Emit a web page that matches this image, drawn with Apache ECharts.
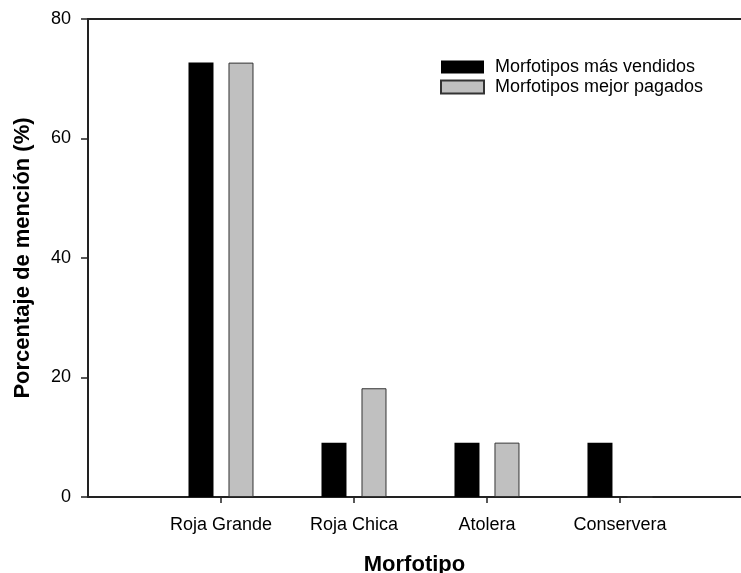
<!DOCTYPE html>
<html>
<head>
<meta charset="utf-8">
<title>Morfotipos</title>
<script src="https://cdn.jsdelivr.net/npm/echarts@6/dist/echarts.min.js"></script>
<style>
  html, body { margin: 0; padding: 0; background: #fff; }
  #chart { width: 741px; height: 573px; }
</style>
</head>
<body>
<div id="chart"></div>
<script>
// Morphotype categories and the share of mentions (%) for each survey question
const categories = ['Roja Grande', 'Roja Chica', 'Atolera', 'Conservera'];
const masVendidos = [72.7, 9.1, 9.1, 9.1];
const mejorPagados = [72.7, 18.2, 9.1, 0];
const seriesNames = ['Morfotipos más vendidos', 'Morfotipos mejor pagados'];
const yTicks = [0, 20, 40, 60, 80];

// categories sit at positions 1..n on a numeric x scale
const positions = categories.map((_, i) => i + 1);
const toPoints = vals => vals.map((v, i) => [positions[i], v]);

const FONT = 'Liberation Sans, Arial, sans-serif';
const AXIS = '#222';

const chart = echarts.init(document.getElementById('chart'), null, { renderer: 'canvas' });

chart.setOption({
  animation: false,
  backgroundColor: '#fff',
  textStyle: { fontFamily: FONT, color: '#000' },
  grid: { left: 88, right: 0, top: 19, bottom: 76, containLabel: false, outerBoundsMode: 'none' },
  legend: {
    orient: 'vertical',
    left: 440,
    top: 58,
    padding: 0,
    itemGap: 2,
    itemWidth: 43,
    itemHeight: 13,
    icon: 'rect',
    data: seriesNames,
    textStyle: { fontFamily: FONT, fontSize: 18, color: '#000', padding: [0, 0, 0, 6] }
  },
  xAxis: [
    {
      type: 'value',
      min: 0,
      max: 4.91,
      interval: 1,
      splitLine: { show: false },
      axisLine: { show: true, onZero: false, lineStyle: { color: AXIS, width: 2 } },
      axisTick: { show: true, length: 6, customValues: positions, lineStyle: { color: AXIS, width: 1.5 } },
      axisLabel: {
        customValues: positions,
        margin: 19,
        fontFamily: FONT,
        fontSize: 18,
        color: '#000',
        formatter: v => categories[Math.round(v) - 1] || ''
      },
      name: 'Morfotipo',
      nameLocation: 'middle',
      nameGap: 57,
      nameTextStyle: { fontFamily: FONT, fontSize: 22, fontWeight: 'bold', color: '#000' }
    },
    {
      // top frame line
      type: 'value',
      position: 'top',
      min: 0,
      max: 4.91,
      axisLine: { show: true, onZero: false, lineStyle: { color: AXIS, width: 2 } },
      axisTick: { show: false },
      axisLabel: { show: false },
      splitLine: { show: false }
    }
  ],
  yAxis: {
    type: 'value',
    min: yTicks[0],
    max: yTicks[yTicks.length - 1],
    interval: yTicks[1] - yTicks[0],
    splitLine: { show: false },
    axisLine: { show: true, onZero: false, lineStyle: { color: AXIS, width: 2 } },
    axisTick: { show: true, length: 7, lineStyle: { color: AXIS, width: 1.5 } },
    axisLabel: { margin: 17, fontFamily: FONT, fontSize: 18, color: '#000' },
    name: 'Porcentaje de mención (%)',
    nameLocation: 'middle',
    nameGap: 54,
    nameTextStyle: { fontFamily: FONT, fontSize: 22, fontWeight: 'bold', color: '#000' }
  },
  series: [
    {
      name: seriesNames[0],
      type: 'bar',
      xAxisIndex: 0,
      barWidth: 25,
      barGap: '60%',
      itemStyle: { color: '#000' },
      data: toPoints(masVendidos)
    },
    {
      name: seriesNames[1],
      type: 'bar',
      xAxisIndex: 0,
      barWidth: 25,
      barGap: '60%',
      itemStyle: { color: '#c0c0c0', borderColor: '#333', borderWidth: 1 },
      data: toPoints(mejorPagados)
    }
  ]
});
</script>
</body>
</html>
